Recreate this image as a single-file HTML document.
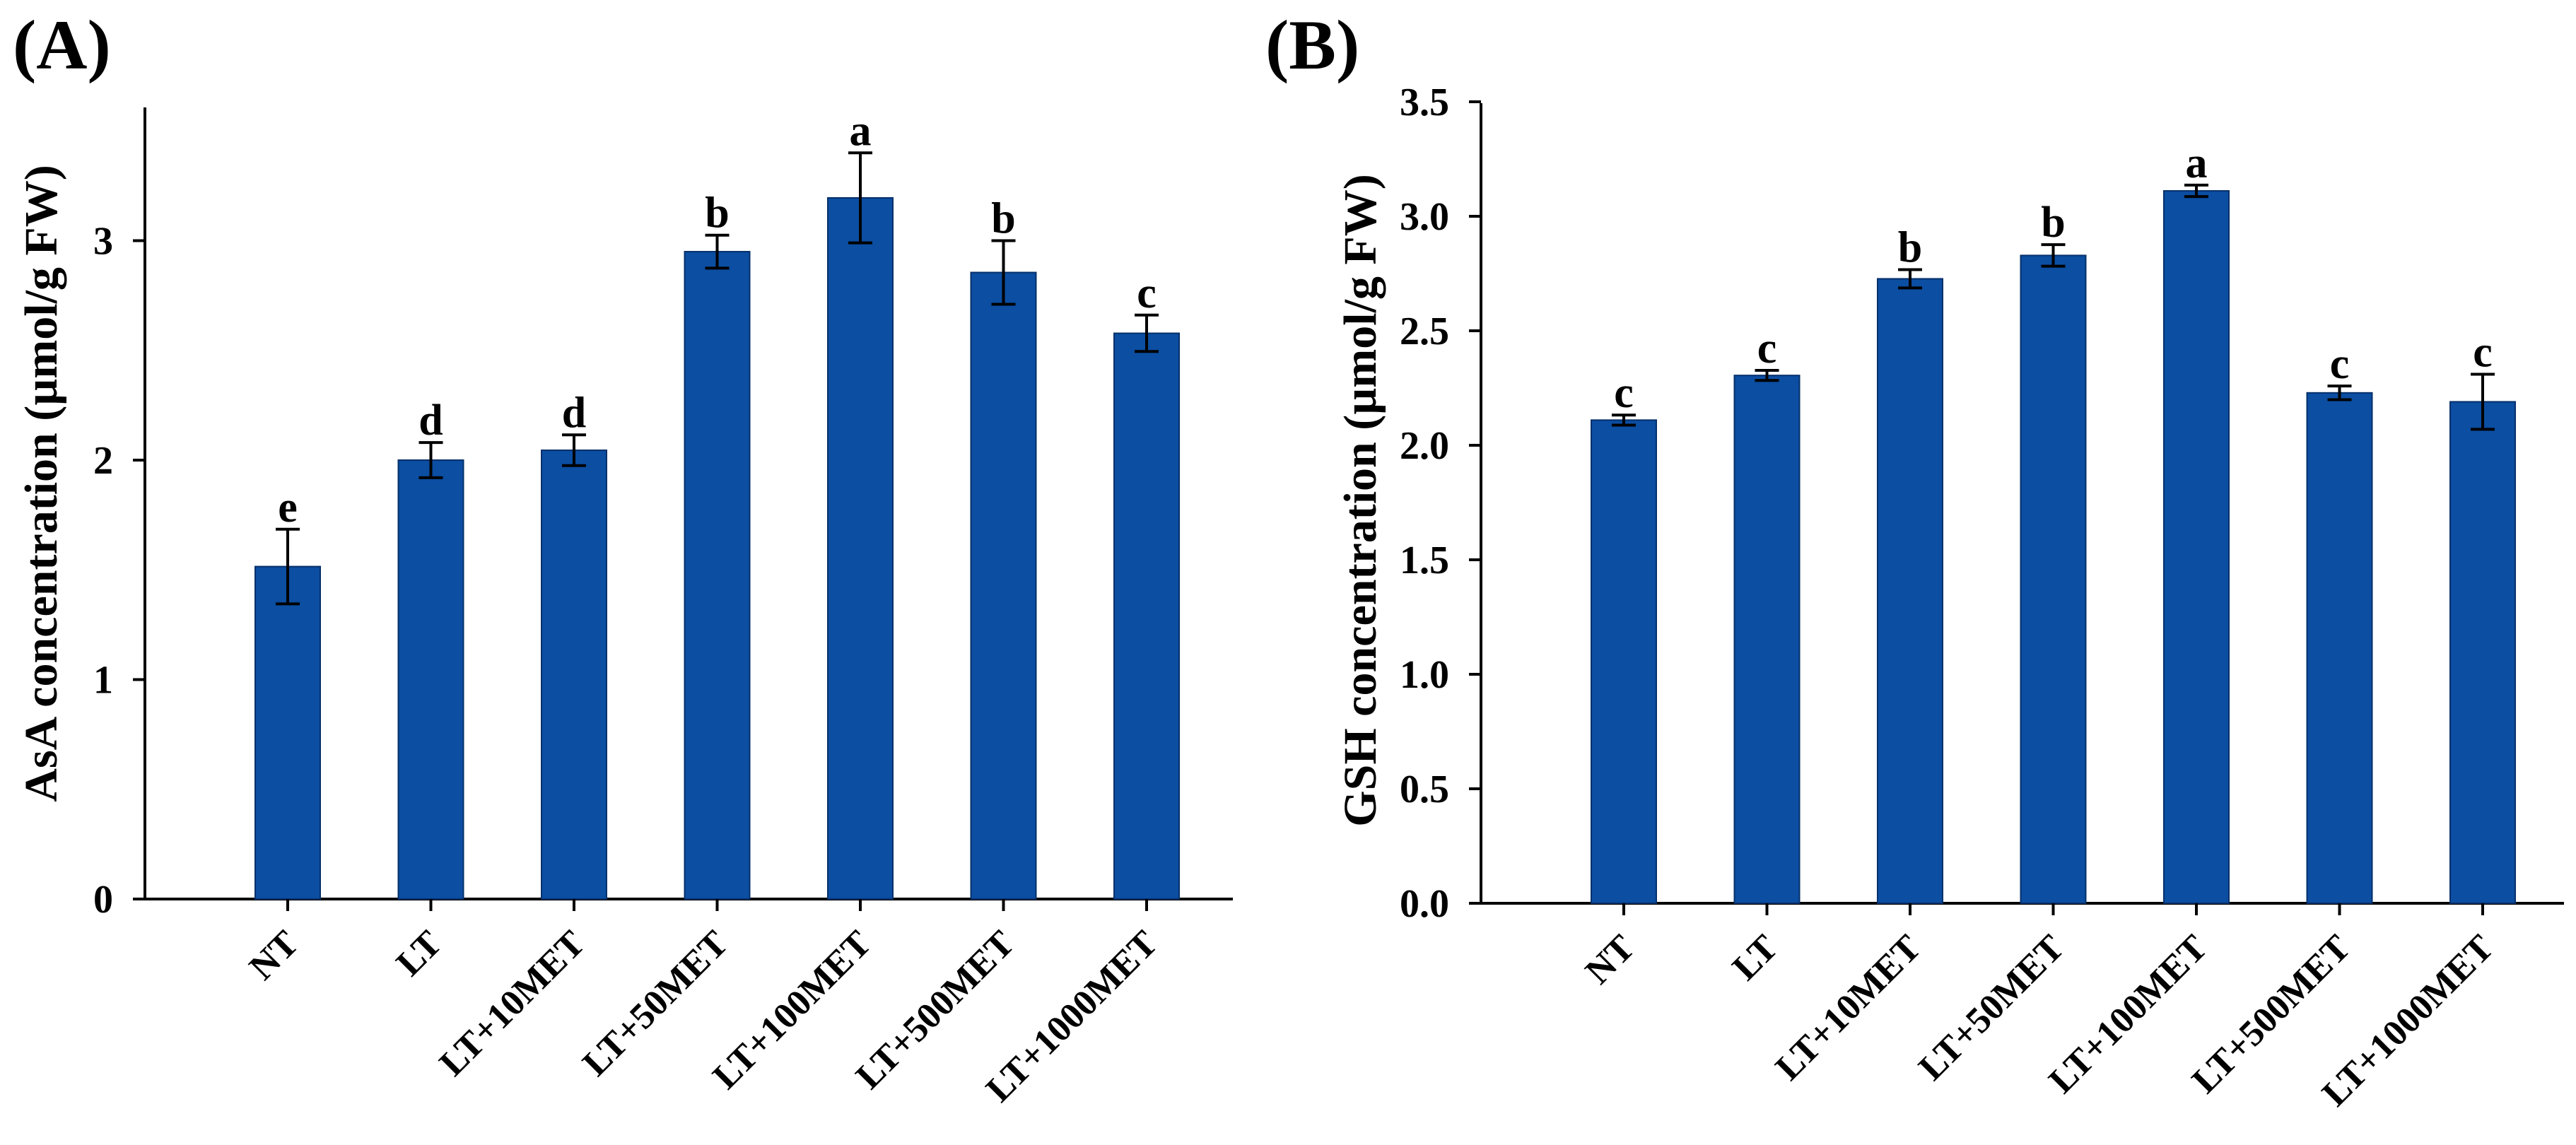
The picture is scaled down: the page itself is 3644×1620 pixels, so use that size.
<!DOCTYPE html>
<html><head><meta charset="utf-8"><style>
html,body{margin:0;padding:0;background:#fff;}
svg text{font-family:"Liberation Serif",serif;font-weight:bold;fill:#000;}
</style></head><body>
<svg id="fig" width="3644" height="1615" viewBox="0 0 3644 1615" xmlns="http://www.w3.org/2000/svg">
<text x="18" y="97" font-size="100">(A)</text>
<text x="1790" y="97" font-size="100">(B)</text>
<text transform="translate(80,684) rotate(-90)" text-anchor="middle" font-size="66">AsA concentration (µmol/g FW)</text>
<text transform="translate(1946,708) rotate(-90)" text-anchor="middle" font-size="66">GSH concentration (µmol/g FW)</text>
<g id="chartA"></g>
<g id="chartB"></g>
</svg>
<script>
const categories = ["NT","LT","LT+10MET","LT+50MET","LT+100MET","LT+500MET","LT+1000MET"];
const asaValues = [1.515, 2.0, 2.045, 2.95, 3.195, 2.855, 2.578];
const asaErrors = [0.17, 0.08, 0.07, 0.075, 0.205, 0.145, 0.083];
const asaLetters = ["e","d","d","b","a","b","c"];
const asaTicks = [0, 1, 2, 3];
const asaTickLabels = ["0","1","2","3"];
const gshValues = [2.11, 2.305, 2.727, 2.829, 3.111, 2.229, 2.19];
const gshErrors = [0.022, 0.022, 0.04, 0.047, 0.025, 0.03, 0.12];
const gshLetters = ["c","c","b","b","a","c","c"];
const gshTicks = [0, 0.5, 1, 1.5, 2, 2.5, 3, 3.5];
const gshTickLabels = ["0.0","0.5","1.0","1.5","2.0","2.5","3.0","3.5"];

const NS = "http://www.w3.org/2000/svg";
function mk(parent, tag, attrs){
  const e = document.createElementNS(NS, tag);
  for (const k in attrs) e.setAttribute(k, attrs[k]);
  parent.appendChild(e);
  return e;
}
function drawChart(g, cfg, vals, errs, letters, ticks, tickLabels, key){
  const y = v => cfg.y0 - v * cfg.unit;
  const x = i => cfg.x0 + i * cfg.step;
  const ya = mk(g, "line", {x1:cfg.ax, x2:cfg.ax, y1:cfg.top, y2:cfg.y0+2, stroke:"#000","stroke-width":4});
  
  
  const xa = mk(g, "line", {x1:cfg.xs, x2:cfg.xe, y1:cfg.y0, y2:cfg.y0, stroke:"#000","stroke-width":4});
  
  
  ticks.forEach((t, i) => {
    const tl = mk(g, "line", {x1:cfg.ax-17, x2:cfg.ax, y1:y(t), y2:y(t), stroke:"#000","stroke-width":4});
    
    
    const tt = mk(g, "text", {x:cfg.tickRight, y:y(t)+19, "text-anchor":"end", "font-size":56});
    tt.textContent = tickLabels[i];
    
    
  });
  vals.forEach((v, i) => {
    const cx = x(i);
    const bar = mk(g, "rect", {x:cx-46, y:y(v), width:92, height:cfg.y0-y(v), fill:"#0b4ea2", stroke:"#06306a","stroke-width":2});
    
    
    const top = y(v + errs[i]), bot = y(v - errs[i]);
    const eb = mk(g, "path", {d:`M${cx},${top}V${bot}M${cx-17},${top}H${cx+17}M${cx-17},${bot}H${cx+17}`, stroke:"#000","stroke-width":4, fill:"none"});
    
    
    const lt = mk(g, "text", {x:cx, y:top-11, "text-anchor":"middle", "font-size":62});
    lt.textContent = letters[i];
    
    
    const tk = mk(g, "line", {x1:cx, x2:cx, y1:cfg.y0, y2:cfg.y0+17, stroke:"#000","stroke-width":4});
    
    
    const xl = mk(g, "text", {transform:`translate(${cx+18},${cfg.y0+66}) rotate(-45)`, "text-anchor":"end", "font-size":52});
    xl.textContent = categories[i];
    
    
  });
}
drawChart(document.getElementById("chartA"),
  {ax:205, top:152, y0:1272, unit:310.5, x0:407, step:202.5, xs:189, xe:1744, tickRight:160},
  asaValues, asaErrors, asaLetters, asaTicks, asaTickLabels, "asa");
drawChart(document.getElementById("chartB"),
  {ax:2095, top:146, y0:1278, unit:324, x0:2297, step:202.5, xs:2078, xe:3627, tickRight:2050},
  gshValues, gshErrors, gshLetters, gshTicks, gshTickLabels, "gsh");
</script>
</body></html>
